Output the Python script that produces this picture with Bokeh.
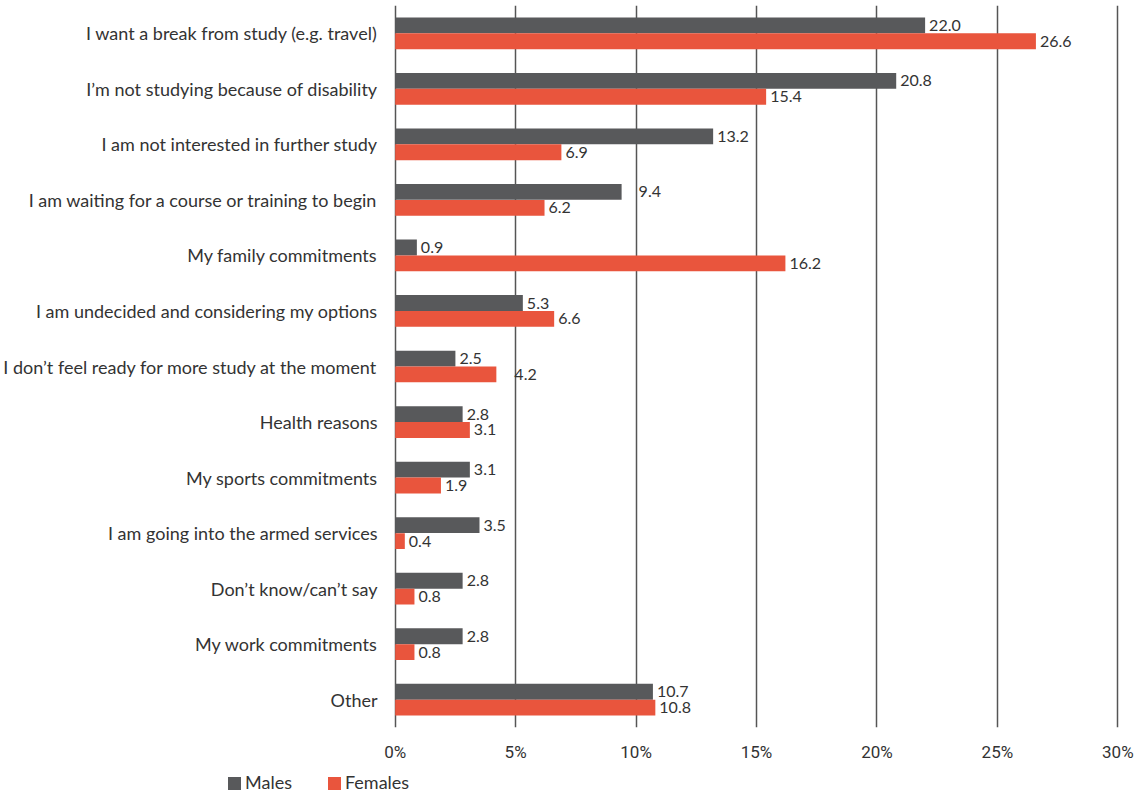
from bokeh.plotting import figure
from bokeh.layouts import column
from bokeh.models import ColumnDataSource, FactorRange, Range1d, FixedTicker, PrintfTickFormatter, Div
from bokeh.transform import dodge
from bokeh.core.properties import value
from bokeh.embed import file_html
from bokeh.resources import INLINE

categories = [
    "I want a break from study (e.g. travel)",
    "I\u2019m not studying because of disability",
    "I am not interested in further study",
    "I am waiting for a course or training to begin",
    "My family commitments",
    "I am undecided and considering my options",
    "I don\u2019t feel ready for more study at the moment",
    "Health reasons",
    "My sports commitments",
    "I am going into the armed services",
    "Don\u2019t know/can\u2019t say",
    "My work commitments",
    "Other",
]
males = [22.0, 20.8, 13.2, 9.4, 0.9, 5.3, 2.5, 2.8, 3.1, 3.5, 2.8, 2.8, 10.7]
females = [26.6, 15.4, 6.9, 6.2, 16.2, 6.6, 4.2, 3.1, 1.9, 0.4, 0.8, 0.8, 10.8]
tick_values = [0, 5, 10, 15, 20, 25, 30]
series_names = ["Males", "Females"]

# label nudges (pixels) - styling only
male_nudge = [4] * len(categories)
female_nudge = [4] * len(categories)
male_nudge[3] = 17
female_nudge[6] = 18

MALE_COLOR = "#58595b"
FEMALE_COLOR = "#e9553d"
TEXT_COLOR = "#333333"

src = ColumnDataSource(dict(
    cat=categories, males=males, females=females,
    mlab=[f"{v:.1f}" for v in males], flab=[f"{v:.1f}" for v in females],
    mnud=male_nudge, fnud=female_nudge,
))

p = figure(
    width=1142, height=764, output_backend="svg", toolbar_location=None,
    y_range=FactorRange(factors=list(reversed(categories)), range_padding=0),
    x_range=Range1d(-0.07, 30.07),
    min_border_left=391, min_border_right=23, min_border_top=5, min_border_bottom=31,
)
p.outline_line_color = None
p.background_fill_color = "white"
p.border_fill_color = "white"

bw = 0.285
p.hbar(y=dodge("cat", 0.143, range=p.y_range), right="males", left=0, height=bw,
       source=src, color=MALE_COLOR, line_color=None)
p.hbar(y=dodge("cat", -0.143, range=p.y_range), right="females", left=0, height=bw,
       source=src, color=FEMALE_COLOR, line_color=None)

p.text(x="males", y=dodge("cat", 0.143, range=p.y_range), text="mlab", x_offset="mnud",
       source=src, text_font=value("Lato"), text_font_size="16px", text_color=TEXT_COLOR,
       text_baseline="middle", text_align="left")
p.text(x="females", y=dodge("cat", -0.143, range=p.y_range), text="flab", x_offset="fnud",
       source=src, text_font=value("Lato"), text_font_size="16px", text_color=TEXT_COLOR,
       text_baseline="middle", text_align="left")

p.ygrid.grid_line_color = None
p.xgrid.grid_line_color = "#555555"
p.xgrid.grid_line_width = 1.5
p.xgrid.ticker = FixedTicker(ticks=tick_values)

p.xaxis.ticker = FixedTicker(ticks=tick_values)
p.xaxis.formatter = PrintfTickFormatter(format="%d%%")
p.xaxis.axis_line_color = None
p.xaxis.major_tick_line_color = None
p.xaxis.minor_tick_line_color = None
p.xaxis.major_label_standoff = 8
p.xaxis.major_label_text_font = "Roboto"
p.xaxis.major_label_text_font_size = "17px"
p.xaxis.major_label_text_color = TEXT_COLOR

p.yaxis.axis_line_color = None
p.yaxis.major_tick_line_color = None
p.yaxis.minor_tick_line_color = None
p.yaxis.major_label_standoff = 10
p.yaxis.major_label_text_font = "Lato"
p.yaxis.major_label_text_font_size = "18px"
p.yaxis.major_label_text_color = TEXT_COLOR

# legend strip below the chart
def swatch(color, label, gap):
    return (f'<span style="display:inline-block;width:13px;height:13px;background:{color};'
            f'vertical-align:-1px;margin-left:{gap}px"></span>'
            f'<span style="margin-left:4px">{label}</span>')

legend_html = (
    f'<div style="font-family:Lato;font-size:18px;color:{TEXT_COLOR};white-space:nowrap;'
    f'padding-left:228px;padding-top:8px;line-height:20px">'
    + swatch(MALE_COLOR, series_names[0], 0)
    + swatch(FEMALE_COLOR, series_names[1], 36)
    + '</div>'
)
lg = Div(text=legend_html, width=1142, height=30, margin=0)

layout = column(p, lg, spacing=0)
open("out.html", "w").write(file_html(layout, INLINE))
